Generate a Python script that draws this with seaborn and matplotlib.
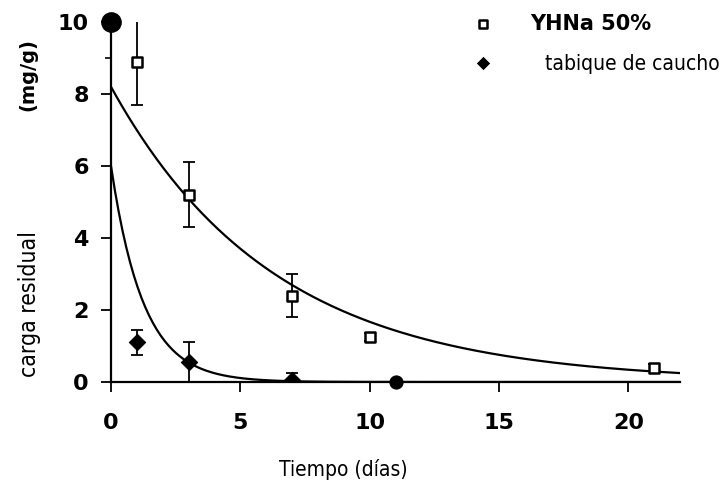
import numpy as np
import pandas as pd
import matplotlib
matplotlib.use("Agg")
import matplotlib.pyplot as plt
import seaborn as sns

# data
t_yhna = [1, 3, 7, 10, 21]
y_yhna = [8.9, 5.2, 2.4, 1.25, 0.4]
e_yhna = [1.2, 0.9, 0.6, 0.12, 0.1]

t_cau = [1, 3, 7, 11]
y_cau = [1.1, 0.55, 0.05, 0.0]
e_cau = [0.35, 0.55, 0.2, 0.0]

t0 = [0]
y0 = [10]

# fitted first-order decay parameters
A_yhna, k_yhna = 8.2, 0.159
A_cau, k_cau = 6.0, 0.80

x_ticks = [0, 5, 10, 15, 20]
y_ticks = [0, 2, 4, 6, 8, 10]

sns.set_theme(style="white")
plt.rcParams['font.family'] = ['DejaVu Sans']
plt.rcParams['text.color'] = 'black'
plt.rcParams['xtick.color'] = 'black'
plt.rcParams['ytick.color'] = 'black'

fig = plt.figure(figsize=(7.25, 4.99), dpi=100)
ax = fig.add_axes([111/725, 1-382/499, (680-111)/725, 360/499])

tt = np.linspace(0, 22, 300)
df_fit = pd.DataFrame({
    "t": np.concatenate([tt, tt]),
    "y": np.concatenate([A_yhna*np.exp(-k_yhna*tt), A_cau*np.exp(-k_cau*tt)]),
    "s": ["YHNa"]*len(tt) + ["caucho"]*len(tt),
})
sns.lineplot(data=df_fit, x="t", y="y", hue="s", palette=["black", "black"],
             linewidth=1.6, legend=False, ax=ax)

ax.errorbar(t_yhna, y_yhna, yerr=e_yhna, fmt='none', ecolor='black', elinewidth=1.3,
            capsize=4, capthick=1.3, zorder=3)
ax.errorbar(t_cau, y_cau, yerr=e_cau, fmt='none', ecolor='black', elinewidth=1.3,
            capsize=4, capthick=1.3, zorder=3)

sns.scatterplot(x=t_yhna, y=y_yhna, marker='s', s=55, facecolor='white',
                edgecolor='black', linewidth=1.8, ax=ax, zorder=4)
sns.scatterplot(x=t_cau[:3], y=y_cau[:3], marker='D', s=70, color='black',
                edgecolor='black', ax=ax, zorder=4)
sns.scatterplot(x=t_cau[3:], y=y_cau[3:], marker='o', s=90, color='black',
                edgecolor='black', ax=ax, zorder=4, clip_on=False)
sns.scatterplot(x=t0, y=y0, marker='o', s=190, color='black', edgecolor='black',
                ax=ax, zorder=5, clip_on=False)

ax.set_xlim(0, 22)
ax.set_ylim(0, 10)
ax.set_xticks(x_ticks)
ax.set_yticks(y_ticks)
ax.set_yticks([9], minor=True)
ax.set_xticklabels([str(v) for v in x_ticks], fontweight='bold', fontsize=16)
ax.set_yticklabels([str(v) for v in y_ticks], fontweight='bold', fontsize=16)
ax.tick_params(axis='both', which='major', direction='out', length=7, width=1.3,
               color='black', bottom=True, left=True)
ax.tick_params(axis='x', which='major', pad=15)
ax.tick_params(axis='y', which='major', pad=9)
ax.tick_params(axis='y', which='minor', direction='out', length=4, width=1.2,
               color='black', left=True)
for s in ['top', 'right']:
    ax.spines[s].set_visible(False)
for s in ['left', 'bottom']:
    ax.spines[s].set_color('black')
    ax.spines[s].set_linewidth(1.6)
ax.set_xlabel("")
ax.set_ylabel("")

fig.text(343/725, 1-470/499, "Tiempo (días)", fontsize=15, fontstretch='condensed',
         family='DejaVu Sans', ha='center', va='center')
fig.text(30/725, 1-304/499, "carga residual", fontsize=16.5, fontstretch='condensed',
         family='DejaVu Sans', rotation=90, ha='center', va='center')
fig.text(28/725, 1-75/499, "(mg/g)", fontsize=14, fontweight='bold',
         rotation=90, ha='center', va='center')

# legend
fig.text(530/725, 1-24/499, "YHNa 50%", fontsize=15, fontweight='bold',
         ha='left', va='center')
fig.text(545/725, 1-64/499, "tabique de caucho", fontsize=15, fontstretch='condensed',
         family='DejaVu Sans', ha='left', va='center')
lax = fig.add_axes([0, 0, 1, 1], facecolor='none')
lax.set_xlim(0, 725)
lax.set_ylim(499, 0)
lax.axis('off')
sns.scatterplot(x=[483], y=[24], marker='s', s=30, facecolor='white',
                edgecolor='black', linewidth=1.8, ax=lax)
sns.scatterplot(x=[483], y=[63], marker='D', s=55, color='black', ax=lax)

fig.savefig("out.png", dpi=100)
